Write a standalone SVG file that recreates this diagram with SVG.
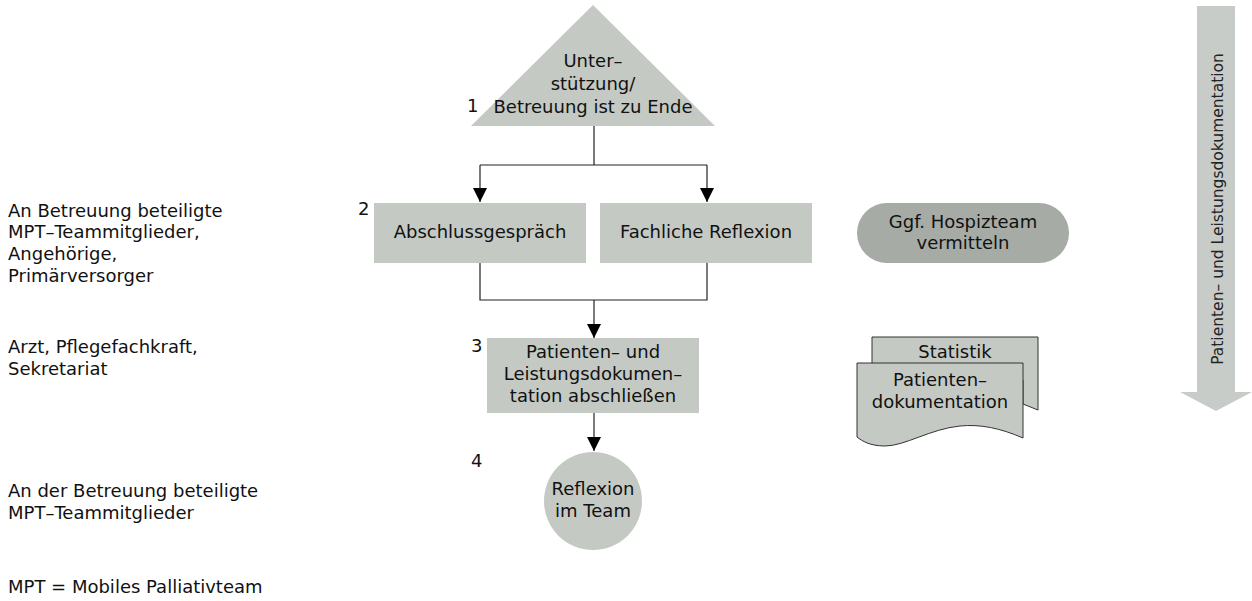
<svg xmlns="http://www.w3.org/2000/svg" width="1252" height="601" viewBox="0 0 1252 601">
  <style>
    text { font-family: "DejaVu Sans", "Liberation Sans", sans-serif; font-size: 18px; fill: #111; }
    .c { text-anchor: middle; }
    .shape { fill: #c4c9c4; }
    .dark { fill: #a6aba6; }
    .doc { fill: #c4c9c4; stroke: #333; stroke-width: 1; }
    .conn { fill: none; stroke: #222; stroke-width: 1.2; }
    .arr { marker-end: url(#arrow); }
    .side { font-size: 15.5px; fill: #222; }
  </style>
  <defs>
    <marker id="arrow" markerUnits="userSpaceOnUse" markerWidth="14" markerHeight="14" refX="14" refY="7" orient="auto" viewBox="0 0 14 14">
      <path d="M0,0 L14,7 L0,14 Z" fill="#000"/>
    </marker>
  </defs>

  <!-- Role labels -->
  <g id="roles">
    <text x="8" y="217">An Betreuung beteiligte</text>
    <text x="8" y="238">MPT–Teammitglieder,</text>
    <text x="8" y="260">Angehörige,</text>
    <text x="8" y="282">Primärversorger</text>
    <text x="8" y="353">Arzt, Pflegefachkraft,</text>
    <text x="8" y="375">Sekretariat</text>
    <text x="8" y="497">An der Betreuung beteiligte</text>
    <text x="8" y="519">MPT–Teammitglieder</text>
    <text x="8" y="593">MPT = Mobiles Palliativteam</text>
  </g>

  <!-- Connectors -->
  <g id="connectors">
    <path class="conn" d="M594,126 V165 M480,165 H707"/>
    <path class="conn arr" d="M480,165 V202"/>
    <path class="conn arr" d="M707,165 V202"/>
    <path class="conn" d="M480,263 V300 H707 V263"/>
    <path class="conn arr" d="M594,300 V338"/>
    <path class="conn arr" d="M594,413 V451"/>
  </g>

  <!-- Step 1: start -->
  <g id="start">
    <polygon class="shape" points="593,5 471,126 715,126"/>
    <text x="467" y="112">1</text>
    <text class="c" x="593" y="67">Unter–</text>
    <text class="c" x="593" y="90">stützung/</text>
    <text class="c" x="593" y="113">Betreuung ist zu Ende</text>
  </g>

  <!-- Step 2 -->
  <g id="abschlussgespraech">
    <rect class="shape" x="374" y="203" width="212" height="60"/>
    <text x="358" y="215">2</text>
    <text class="c" x="480" y="238">Abschlussgespräch</text>
  </g>
  <g id="fachliche-reflexion">
    <rect class="shape" x="600" y="203" width="212" height="60"/>
    <text class="c" x="706" y="238">Fachliche Reflexion</text>
  </g>
  <g id="hospizteam">
    <rect class="dark" x="857" y="203" width="212" height="60" rx="30" ry="30"/>
    <text class="c" x="963" y="228">Ggf. Hospizteam</text>
    <text class="c" x="963" y="249">vermitteln</text>
  </g>

  <!-- Step 3 -->
  <g id="dokumentation">
    <rect class="shape" x="487" y="338" width="212" height="75"/>
    <text x="471" y="352">3</text>
    <text class="c" x="593" y="358">Patienten– und</text>
    <text class="c" x="593" y="380">Leistungsdokumen–</text>
    <text class="c" x="593" y="402">tation abschließen</text>
  </g>
  <g id="documents">
    <path class="doc" d="M872,337 H1038 V410 L1023,404 V380 H872 Z"/>
    <text class="c" x="955" y="358">Statistik</text>
    <path class="doc" d="M857,363 H1023 V438 C1000,428 980,424 960,426 C930,429 905,446 885,446 C870,446 862,441 857,437 Z"/>
    <text class="c" x="940" y="386">Patienten–</text>
    <text class="c" x="940" y="408">dokumentation</text>
  </g>

  <!-- Step 4 -->
  <g id="reflexion-team">
    <circle class="shape" cx="593" cy="501" r="49"/>
    <text x="471" y="467">4</text>
    <text class="c" x="593" y="495">Reflexion</text>
    <text class="c" x="593" y="517">im Team</text>
  </g>

  <!-- Side arrow -->
  <g id="side-arrow">
    <polygon fill="#c8ccc8" points="1197,6 1235,6 1235,392 1252,392 1216,411 1180,392 1197,392"/>
    <text class="side c" transform="translate(1223,209) rotate(-90)">Patienten– und Leistungsdokumentation</text>
  </g>
</svg>
